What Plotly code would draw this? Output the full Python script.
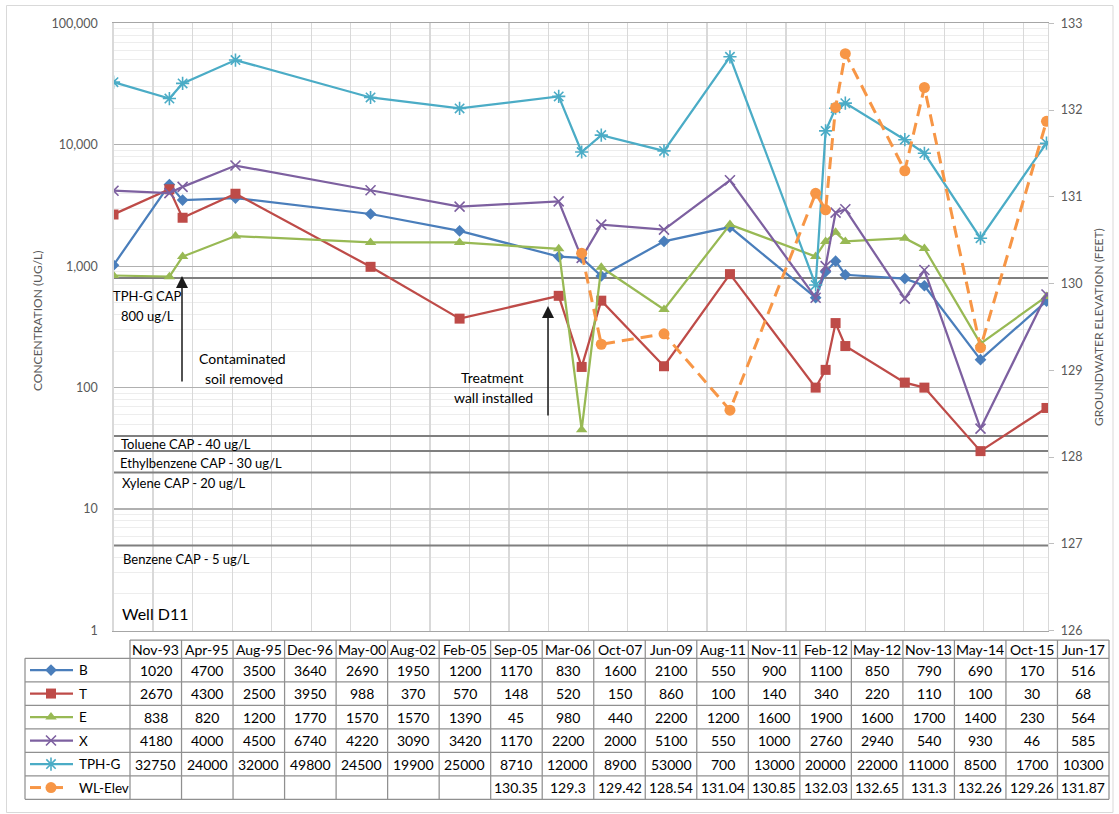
import plotly.graph_objects as go

W, H = 1119, 814
FONT = "Lato, 'Open Sans', sans-serif"

# ---------------- data ----------------
date_labels = ["Nov-93", "Apr-95", "Aug-95", "Dec-96", "May-00", "Aug-02", "Feb-05", "Sep-05",
               "Mar-06", "Oct-07", "Jun-09", "Aug-11", "Nov-11", "Feb-12", "May-12", "Nov-13",
               "May-14", "Oct-15", "Jun-17"]
dates = ["1993-11-01", "1995-04-01", "1995-08-01", "1996-12-01", "2000-05-01", "2002-08-01",
         "2005-02-01", "2005-09-01", "2006-03-01", "2007-10-01", "2009-06-01", "2011-08-01",
         "2011-11-01", "2012-02-01", "2012-05-01", "2013-11-01", "2014-05-01", "2015-10-01",
         "2017-06-01"]
B = [1020, 4700, 3500, 3640, 2690, 1950, 1200, 1170, 830, 1600, 2100, 550, 900, 1100, 850, 790, 690, 170, 516]
T = [2670, 4300, 2500, 3950, 988, 370, 570, 148, 520, 150, 860, 100, 140, 340, 220, 110, 100, 30, 68]
E = [838, 820, 1200, 1770, 1570, 1570, 1390, 45, 980, 440, 2200, 1200, 1600, 1900, 1600, 1700, 1400, 230, 564]
X = [4180, 4000, 4500, 6740, 4220, 3090, 3420, 1170, 2200, 2000, 5100, 550, 1000, 2760, 2940, 540, 930, 46, 585]
TPHG = [32750, 24000, 32000, 49800, 24500, 19900, 25000, 8710, 12000, 8900, 53000, 700, 13000,
        20000, 22000, 11000, 8500, 1700, 10300]
WL = [None, None, None, None, None, None, None, 130.35, 129.3, 129.42, 128.54, 131.04, 130.85,
      132.03, 132.65, 131.3, 132.26, 129.26, 131.87]

series_names = ["B", "T", "E", "X", "TPH-G", "WL-Elev"]
series_values = [B, T, E, X, TPHG, WL]

cap_values = [800, 40, 30, 20, 5]

left_tickvals = [1, 10, 100, 1000, 10000, 100000]
left_ticktext = ["1", "10", "100", "1,000", "10,000", "100,000"]
right_tickvals = [126, 127, 128, 129, 130, 131, 132, 133]
x_end = "2017-06-15"

# ---------------- styles ----------------
colors = ["#4A7EBB", "#BE4B48", "#98B954", "#7D60A0", "#4BACC6", "#F79646"]
symbols = ["diamond", "square", "triangle-up", "x-thin-open", "asterisk-open", "circle"]
msizes = [9, 10, 10, 10, 11, 11]


def pxx(x):
    return x / W


def pyy(y):
    return 1 - y / H


def marker_for(sym, size, color):
    if sym.endswith("open"):
        return dict(symbol=sym, size=size, color=color, line=dict(color=color, width=1.6))
    return dict(symbol=sym, size=size, color=color, line=dict(width=0))


fig = go.Figure()

# CAP lines (beneath the series)
for v in cap_values:
    fig.add_trace(go.Scatter(x=[dates[0], x_end], y=[v, v], mode="lines",
                             line=dict(color="#7F7F7F", width=2), hoverinfo="skip",
                             xaxis="x", yaxis="y"))

# concentration series
for i in range(5):
    fig.add_trace(go.Scatter(x=dates, y=series_values[i], name=series_names[i],
                             mode="lines+markers",
                             line=dict(color=colors[i], width=2.25),
                             marker=marker_for(symbols[i], msizes[i], colors[i]),
                             xaxis="x", yaxis="y"))

# water level series (right axis)
fig.add_trace(go.Scatter(x=dates, y=WL, name="WL-Elev", mode="lines+markers",
                         line=dict(color=colors[5], width=3, dash="12px,7px"),
                         marker=marker_for(symbols[5], msizes[5], colors[5]),
                         xaxis="x", yaxis="y2"))

# ---------------- data table ----------------
tab_left, lab_right, tab_right = 25, 130, 1109
col_w = (tab_right - lab_right) / len(date_labels)
head_top, head_bot = 640, 658.3
row_h = (799.3 - head_bot) / len(series_names)
row_edges = [head_bot + k * row_h for k in range(len(series_names) + 1)]
grid_col = "#909090"

shapes = []
# outer chart border
shapes.append(dict(type="rect", xref="paper", yref="paper", x0=pxx(6.5), x1=pxx(1113),
                   y0=pyy(812.5), y1=pyy(5.5), line=dict(color="#D9D9D9", width=1)))
# horizontal lines
shapes.append(dict(type="line", xref="paper", yref="paper", x0=pxx(lab_right), x1=pxx(tab_right),
                   y0=pyy(head_top), y1=pyy(head_top), line=dict(color=grid_col, width=1.25)))
for ye in row_edges:
    shapes.append(dict(type="line", xref="paper", yref="paper", x0=pxx(tab_left), x1=pxx(tab_right),
                       y0=pyy(ye), y1=pyy(ye), line=dict(color=grid_col, width=1.25)))
# vertical lines
shapes.append(dict(type="line", xref="paper", yref="paper", x0=pxx(tab_left), x1=pxx(tab_left),
                   y0=pyy(head_bot), y1=pyy(row_edges[-1]), line=dict(color=grid_col, width=1.25)))
for c in range(len(date_labels) + 1):
    xc = lab_right + c * col_w
    shapes.append(dict(type="line", xref="paper", yref="paper", x0=pxx(xc), x1=pxx(xc),
                       y0=pyy(head_top), y1=pyy(row_edges[-1]), line=dict(color=grid_col, width=1.25)))

annotations = []


def ann(x, y, text, size=14, xanchor="center", color="#000000", **kw):
    annotations.append(dict(x=pxx(x), y=pyy(y), xref="paper", yref="paper", text=text,
                            showarrow=False, xanchor=xanchor, yanchor="middle",
                            font=dict(size=size, color=color, family=FONT), **kw))


def fmt(v):
    return "" if v is None else f"{v:g}"


for c, lab in enumerate(date_labels):
    xc = lab_right + (c + 0.5) * col_w
    ann(xc, (head_top + head_bot) / 2, lab, size=14)
    for r, vals in enumerate(series_values):
        yc = (row_edges[r] + row_edges[r + 1]) / 2
        ann(xc, yc, fmt(vals[c]), size=14)

for r, name in enumerate(series_names):
    yc = (row_edges[r] + row_edges[r + 1]) / 2
    ann(77, yc, name, size=13.5, xanchor="left")
    if r < 5:
        fig.add_trace(go.Scatter(x=[30, 73], y=[yc, yc], mode="lines",
                                 line=dict(color=colors[r], width=2.25), hoverinfo="skip",
                                 xaxis="x3", yaxis="y3"))
    else:
        fig.add_trace(go.Scatter(x=[30, 41, None, 55, 63], y=[yc, yc, None, yc, yc], mode="lines",
                                 line=dict(color=colors[r], width=3), hoverinfo="skip",
                                 xaxis="x3", yaxis="y3"))
    fig.add_trace(go.Scatter(x=[51], y=[yc], mode="markers",
                             marker=marker_for(symbols[r], msizes[r], colors[r]),
                             hoverinfo="skip", xaxis="x3", yaxis="y3"))

# ---------------- in-plot text ----------------
ann(148, 296, "TPH-G CAP", size=13)
ann(147, 316, "800 ug/L", size=13)
ann(242.5, 358, "Contaminated", size=14)
ann(244, 378, "soil removed", size=14)
ann(492, 377, "Treatment", size=14)
ann(493, 397, "wall installed", size=14)
ann(119, 444, "Toluene CAP - 40 ug/L", size=13, xanchor="left")
ann(118, 463, "Ethylbenzene CAP - 30 ug/L", size=13, xanchor="left")
ann(120, 483, "Xylene CAP - 20 ug/L", size=13, xanchor="left")
ann(121, 559, "Benzene CAP - 5 ug/L", size=13, xanchor="left")
ann(120, 613, "Well D11", size=16, xanchor="left")

# axis titles
ann(37, 321, "CONCENTRATION (UG/L)", size=12, color="#595959", textangle=-90)
ann(1098, 327, "GROUNDWATER ELEVATION (FEET)", size=12, color="#595959", textangle=-90)

# arrows
for (ax_x, tip_y, tail_y) in [(182, 276, 383), (548, 306, 417)]:
    annotations.append(dict(x=pxx(ax_x), y=pyy(tip_y), xref="paper", yref="paper", text="",
                            showarrow=True, ax=0, ay=tail_y - tip_y, arrowhead=2,
                            arrowsize=1.6, arrowwidth=1.5, arrowcolor="#1A1A1A",
                            standoff=0, startstandoff=0))

minor_vals = [m * 10 ** k for k in range(5) for m in range(2, 10)]

fig.update_layout(
    width=W, height=H, autosize=False,
    margin=dict(l=0, r=0, t=0, b=0),
    paper_bgcolor="white", plot_bgcolor="rgba(0,0,0,0)",
    showlegend=False,
    font=dict(family=FONT, color="#000000"),
    shapes=shapes, annotations=annotations,
    xaxis=dict(domain=[113.5 / W, 1048 / W], type="date", range=[dates[0], x_end],
               tick0=dates[0], dtick="M12", showticklabels=False, ticks="",
               showgrid=True, gridcolor="#D9D9D9", gridwidth=1.25,
               showline=True, linecolor="#A6A6A6", linewidth=1.25, mirror=True,
               zeroline=False, anchor="y", fixedrange=True),
    yaxis=dict(domain=[(H - 630.5) / H, (H - 23.3) / H], type="log", range=[0, 5],
               tickmode="array", tickvals=left_tickvals, ticktext=left_ticktext,
               showgrid=True, gridcolor="#B0B0B0", gridwidth=1.25,
               minor=dict(tickvals=minor_vals, showgrid=True, gridcolor="#EDEDED", gridwidth=1),
               showline=True, linecolor="#D9D9D9", linewidth=1.25, ticks="",
               ticklabelstandoff=12, tickfont=dict(size=12.5, color="#595959", family=FONT),
               zeroline=False, anchor="x", automargin=False, fixedrange=True),
    yaxis2=dict(overlaying="y", side="right", anchor="x", range=[126, 133],
                tickmode="array", tickvals=right_tickvals, showgrid=False,
                ticks="outside", ticklen=5, tickcolor="#BFBFBF",
                showline=True, linecolor="#D9D9D9", linewidth=1.25,
                ticklabelstandoff=4, tickfont=dict(size=12.5, color="#595959", family=FONT),
                zeroline=False, automargin=False, fixedrange=True),
    xaxis3=dict(domain=[0, 1], range=[0, W], visible=False, anchor="y3", fixedrange=True),
    yaxis3=dict(domain=[0, 1], range=[H, 0], visible=False, anchor="x3", fixedrange=True),
)

fig.write_html("out.html",
               config={"displayModeBar": False, "staticPlot": True},
               post_script="document.body.style.margin='0';document.body.style.padding='0';"
                           "document.body.style.overflow='hidden';")
